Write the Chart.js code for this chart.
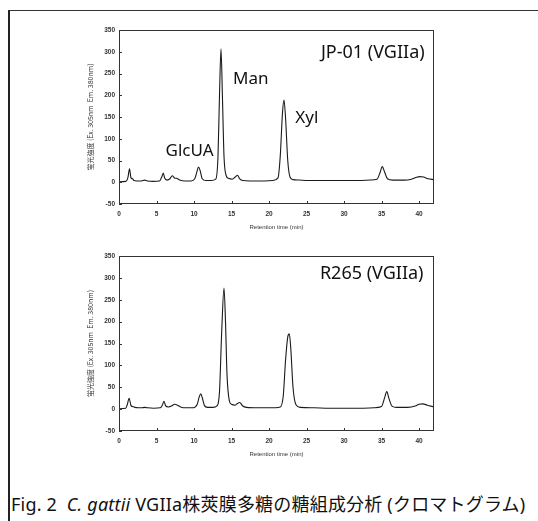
<!DOCTYPE html>
<html>
<head>
<meta charset="utf-8">
<script src="https://cdn.jsdelivr.net/npm/chart.js@4.4.0/dist/chart.umd.min.js"></script>
<style>
  body{margin:0;background:#fff;}
  #page{position:relative;width:538px;height:521px;overflow:hidden;background:#fff;}
  #frame{position:absolute;left:8px;top:10px;width:540px;height:520px;border-left:2px solid #222;border-top:1.5px solid #333;}
  .plot{position:absolute;left:0;}
  #caption{position:absolute;left:11px;top:490px;font-family:"Noto Sans","Noto Sans CJK JP",sans-serif;font-size:18px;letter-spacing:0.2px;color:#111;white-space:nowrap;}
</style>
</head>
<body>
<div id="page">
  <div id="frame"></div>
  <canvas id="plot_canvas1" class="plot" style="top:0px" width="538" height="240"></canvas>
  <canvas id="plot_canvas2" class="plot" style="top:240px" width="538" height="240"></canvas>
  <div id="caption">Fig. 2&nbsp; <i>C. gattii</i> VGIIa株莢膜多糖の糖組成分析 (クロマトグラム)</div>
</div>
<script>
// retention time (min) / fluorescence
const jpTime = [0,0.9,1.2,1.4,1.6,1.8,2.0,2.4,3.0,3.4,3.8,4.5,5.4,5.7,5.9,6.1,6.4,6.8,7.1,7.4,7.7,8.1,8.8,9.6,
  10.1,10.4,10.6,10.8,11.1,11.6,12.3,12.9,13.2,13.4,13.6,13.8,14.0,14.3,14.6,15.1,15.5,15.8,16.1,16.5,17.5,19,20.5,
  21.2,21.5,21.8,22.0,22.2,22.5,22.8,23.2,24,26,28,30,32,33.5,34.4,34.8,35.1,35.4,35.8,36.5,38,39,39.6,40.1,40.6,41.2,42]
const jpSignal = [1,2,12,31,10,8,4,3,3,5,3,2,3,12,21,9,5,8,15,10,9,5,3,3,
  8,25,35,28,8,4,4,7,60,200,307,190,60,15,9,7,12,16,8,4,3,3,4,
  10,60,160,189,150,50,12,6,5,4,4,4,4,5,7,22,36,24,8,5,5,7,11,13,12,8,6]

const r265Time = [0,0.9,1.1,1.35,1.6,1.8,2.1,2.6,3.0,3.4,3.8,4.6,5.5,5.8,6.0,6.2,6.6,7.0,7.4,7.8,8.2,9.0,9.8,
  10.4,10.7,10.9,11.1,11.4,11.8,12.5,13.1,13.4,13.7,14.0,14.2,14.4,14.7,15.0,15.5,15.8,16.1,16.5,17,18.5,20,
  21.5,21.9,22.2,22.5,22.7,22.9,23.2,23.6,24.2,26,28,30,32,34,35,35.4,35.7,36.0,36.4,37,38.5,39.5,40.0,40.5,41.1,42]
const r265Signal = [1,2,10,25,8,6,4,3,3,4,3,2,3,10,18,8,5,7,11,9,5,3,3,
  10,28,35,26,8,4,4,8,40,180,277,200,80,20,11,9,13,15,7,4,3,3,
  5,30,110,165,172,140,50,10,4,3,2,2,2,3,6,25,40,24,7,4,4,7,11,12,9,5]

const xTicks = [0,5,10,15,20,25,30,35,40]
const yTicks = [-50,0,50,100,150,200,250,300,350]

const jpNames = ["JP-01 (VGIIa)","Man","Xyl","GlcUA"]
const jpNameAt = [[40.75,286,"right"],[15.2,225,"left"],[23.5,137,"left"],[6.2,60,"left"]]
const r265Names = ["R265 (VGIIa)"]
const r265NameAt = [[40.6,298,"right"]]

const yTitle = "蛍光強度 (Ex. 305nm  Em. 380nm)"
const xTitle = "Retention time (min)"

const frame_plugin = {
  id: "frame_plugin",
  afterDatasetsDraw(chart, args, opts) {
    const ctx = chart.ctx
    const a = chart.chartArea
    const sx = chart.scales.x, sy = chart.scales.y
    ctx.save()
    ctx.strokeStyle = "#333"
    ctx.lineWidth = 1
    ctx.strokeRect(Math.round(a.left) + 0.5, Math.round(a.top) + 0.5, Math.round(a.right - a.left) - 1, Math.round(a.bottom - a.top) - 1)
    ctx.beginPath()
    // small inward tick marks
    sx.ticks.forEach(function (t) {
      let px = Math.round(sx.getPixelForValue(t.value)) + 0.5
      ctx.moveTo(px, a.bottom); ctx.lineTo(px, a.bottom - 3)
    })
    sy.ticks.forEach(function (t) {
      let py = Math.round(sy.getPixelForValue(t.value)) + 0.5
      ctx.moveTo(a.left, py); ctx.lineTo(a.left + 3, py)
    })
    ctx.stroke()
    ctx.fillStyle = "#111"
    ctx.textBaseline = "alphabetic"
    for (let i = 0; i < opts.names.length; i++) {
      let p = opts.at[i]
      ctx.font = (i === 0 ? "18px" : "17px") + ' "Noto Sans"'
      ctx.textAlign = p[2]
      ctx.fillText(opts.names[i], sx.getPixelForValue(p[0]), sy.getPixelForValue(p[1]))
    }
    ctx.restore()
  }
}

const make_config = (times, signal, names, at, pad) => {
  let pts = []
  for (let i = 0; i < times.length; i++) {
    pts.push({x: times[i], y: signal[i]})
  }
  const tickFont = {family: "Liberation Sans", size: 6.5, weight: "bold"}
  return {
    type: "line",
    data: {
      datasets: [{
        data: pts,
        borderColor: "#1a1a1a",
        borderWidth: 1.1,
        pointRadius: 0,
        fill: false,
        cubicInterpolationMode: "monotone"
      }]
    },
    options: {
      responsive: false,
      animation: false,
      devicePixelRatio: 1,
      layout: {padding: pad},
      plugins: {
        legend: {display: false},
        tooltip: {enabled: false},
        frame_plugin: {names: names, at: at}
      },
      scales: {
        x: {
          type: "linear",
          min: 0, max: 42,
          afterBuildTicks: function (s) { s.ticks = xTicks.map(v => ({value: v})) },
          afterFit: function (s) { s.height = 30 },
          grid: {display: false, drawTicks: false},
          border: {display: false},
          ticks: {font: tickFont, color: "#333", padding: 6, maxRotation: 0, autoSkip: false},
          title: {display: true, text: xTitle, font: {family: "Liberation Sans", size: 6}, color: "#333", padding: {top: 0, bottom: 3}}
        },
        y: {
          min: -50, max: 350,
          afterBuildTicks: function (s) { s.ticks = yTicks.map(v => ({value: v})) },
          afterFit: function (s) { s.width = 40 },
          grid: {display: false, drawTicks: false},
          border: {display: false},
          ticks: {font: tickFont, color: "#333", padding: 4, autoSkip: false},
          title: {display: true, text: yTitle, font: {family: "Noto Sans CJK JP", size: 7}, color: "#333", padding: {top: 7, bottom: 0}}
        }
      }
    },
    plugins: [frame_plugin]
  }
}

const draw_canvas = (id, config) => {
  let canvas = document.getElementById(id)
  return new Chart(canvas, config)
}

draw_canvas("plot_canvas1", make_config(jpTime, jpSignal, jpNames, jpNameAt, {left: 79, right: 104, top: 30, bottom: 6}))
draw_canvas("plot_canvas2", make_config(r265Time, r265Signal, r265Names, r265NameAt, {left: 79, right: 104, top: 16, bottom: 19}))
</script>
</body>
</html>
